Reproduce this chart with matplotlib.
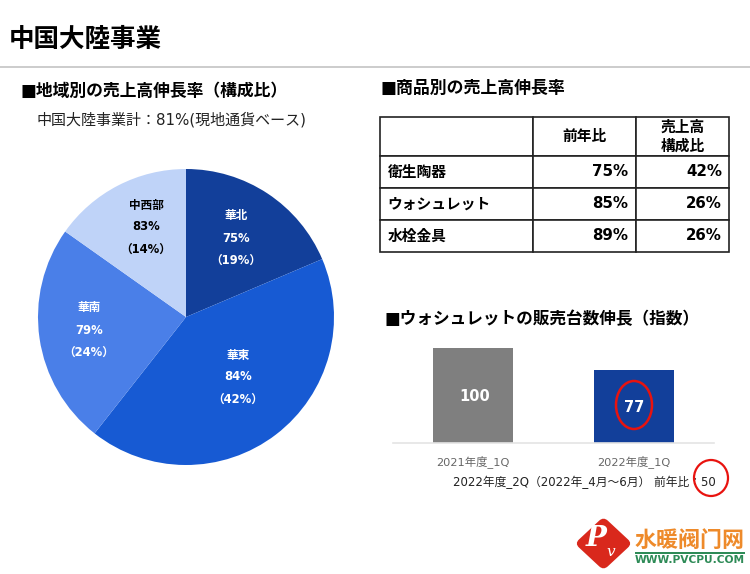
import matplotlib
matplotlib.use("Agg")
import matplotlib.pyplot as plt
from matplotlib.patches import Ellipse, FancyBboxPatch, Rectangle
from matplotlib.transforms import Affine2D

plt.rcParams["font.family"] = ["DejaVu Sans", "Noto Sans CJK JP"]

W, H = 750, 574

# pie
regions = ["華北", "華東", "華南", "中西部"]
region_shares = [18.6, 42.0, 24.2, 15.2]  # slice sizes as drawn
region_growth = ["75%", "84%", "79%", "83%"]
region_labels = ["（19%）", "（42%）", "（24%）", "（14%）"]
region_colors = ["#123f9a", "#175ad3", "#4a7fe8", "#bfd3f8"]
region_text = ["white", "white", "white", "black"]
label_pos = [(236, 238), (238, 377), (89, 330), (146, 227)]

# table
table_cols = ["", "前年比", "売上高\n構成比"]
products = ["衛生陶器", "ウォシュレット", "水栓金具"]
yoy = ["75%", "85%", "89%"]
mix = ["42%", "26%", "26%"]

# bars
quarters = ["2021年度_1Q", "2022年度_1Q"]
index_vals = [100, 77]
bar_colors = ["#7f7f7f", "#123f9a"]


def px_axes(x0, y0, x1, y1):
    # axes placed by pixel box, y measured from the top
    return fig.add_axes([x0 / W, 1 - y1 / H, (x1 - x0) / W, (y1 - y0) / H])


fig = plt.figure(figsize=(W / 100, H / 100), dpi=100)

# page overlay in pixel coordinates
page = fig.add_axes([0, 0, 1, 1])
page.set_xlim(0, W)
page.set_ylim(H, 0)
page.axis("off")

page.text(9, 40, "中国大陸事業", fontsize=18.4, fontweight="bold", va="center")
page.plot([0, W], [67, 67], color="#c4c4c4", lw=1.2)
page.text(20, 91, "■地域別の売上高伸長率（構成比）", fontsize=12.1, fontweight="bold", va="center")
page.text(37, 120, "中国大陸事業計：81%(現地通貨ベース)", fontsize=10.8, va="center", color="#222222")
page.text(381, 88, "■商品別の売上高伸長率", fontsize=12.2, fontweight="bold", va="center")
page.text(385, 319, "■ウォシュレットの販売台数伸長（指数）", fontsize=12, fontweight="bold", va="center")

# pie
ax_pie = px_axes(38, 169, 334, 465)
ax_pie.pie(region_shares, colors=region_colors, startangle=90, counterclock=False, radius=1.0)
ax_pie.set_xlim(-1, 1)
ax_pie.set_ylim(-1, 1)

# table
ax_tab = px_axes(380, 117, 729, 252)
ax_tab.axis("off")
rows = [table_cols] + [[p, a, b] for p, a, b in zip(products, yoy, mix)]
tab = ax_tab.table(cellText=rows, bbox=[0, 0, 1, 1], colWidths=[153 / 349, 103 / 349, 93 / 349])
tab.auto_set_font_size(False)
row_h = [39 / 135, 32 / 135, 32 / 135, 32 / 135]
for (r, c), cell in tab.get_celld().items():
    cell.set_height(row_h[r])
    cell.set_linewidth(1.2)
    cell.set_edgecolor("#222222")
    t = cell.get_text()
    t.set_fontweight("bold")
    t.set_fontsize(10.8 if c > 0 and r > 0 else 10.6)
    t.set_linespacing(1.35)
    if r == 0:
        cell.set_text_props(ha="center")
        cell.PAD = 0.02
    elif c == 0:
        cell.set_text_props(ha="left")
        cell.PAD = 0.05
    else:
        cell.set_text_props(ha="right")
        cell.PAD = 0.08 if c == 1 else 0.075

# bars
ax_bar = px_axes(393, 348, 714, 443)
ax_bar.bar([0, 1], index_vals, width=0.497, color=bar_colors)
ax_bar.set_xlim(-0.497, 1.497)
ax_bar.set_ylim(0, 100)
ax_bar.set_xticks([0, 1], quarters)
ax_bar.set_yticks([])
ax_bar.tick_params(axis="x", length=0, pad=9, labelsize=8.2, labelcolor="#666666")
for s in ["top", "left", "right"]:
    ax_bar.spines[s].set_visible(False)
ax_bar.spines["bottom"].set_color("#e4e4e4")
ax_bar.spines["bottom"].set_linewidth(1.2)
for i, v in enumerate(index_vals):
    ax_bar.text(i + 0.01 * (1 - i), v / 2 - 1.5, str(v), color="white", fontsize=10.5,
                fontweight="bold", ha="center", va="center")

page.text(453, 482, "2022年度_2Q（2022年_4月～6月） 前年比：50", fontsize=8.5, va="center", color="#222222")

# everything that sits on top of pie and bars
top = fig.add_axes([0, 0, 1, 1], zorder=10)
top.set_xlim(0, W)
top.set_ylim(H, 0)
top.axis("off")
top.patch.set_alpha(0)

for name, g, s, c, (x, y) in zip(regions, region_growth, region_labels, region_text, label_pos):
    top.text(x, y - 22, name, color=c, fontsize=8.4, fontweight="bold", ha="center", va="center")
    top.text(x, y, g, color=c, fontsize=8.4, fontweight="bold", ha="center", va="center")
    top.text(x, y + 22, s, color=c, fontsize=8.4, fontweight="bold", ha="center", va="center")

top.add_patch(Ellipse((634, 405), 36, 48, fill=False, ec="#e8130f", lw=1.8))
top.add_patch(Ellipse((711, 478), 34, 36, fill=False, ec="#e8130f", lw=1.6))

# watermark logo
diamond = FancyBboxPatch((-20, -20), 40, 40, boxstyle="round,pad=0,rounding_size=6",
                         fc="#d9281c", ec="none",
                         transform=Affine2D().rotate_deg(45).scale(1.02, 0.95).translate(603.5, 543.5) + top.transData)
top.add_patch(diamond)
top.text(596, 538, "P", color="white", fontsize=20, family="DejaVu Serif", style="italic",
         fontweight="bold", ha="center", va="center")
top.text(611, 552, "v", color="white", fontsize=11, family="DejaVu Serif", style="italic",
         ha="center", va="center")
top.text(690, 540, "水暖阀门网", color="#ee8a2a", fontsize=15.8, family=["Noto Sans CJK SC"],
         fontweight="bold", ha="center", va="center")
top.add_patch(Rectangle((635, 552), 110, 2, fc="#2e8b57", ec="none"))
top.text(690, 560, "WWW.PVCPU.COM", color="#2e8b57", fontsize=7.7, fontweight="bold",
         ha="center", va="center")

fig.savefig("out.png", dpi=100)
